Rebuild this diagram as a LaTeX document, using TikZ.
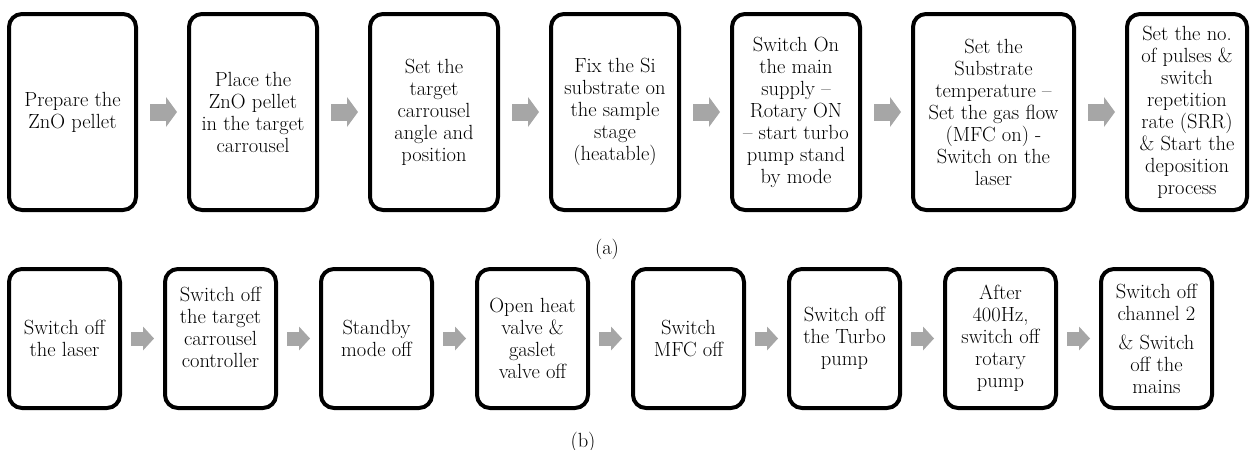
\documentclass[tikz,border=0pt]{standalone}
\usepackage{tikz}
\usetikzlibrary{positioning,arrows.meta}
\definecolor{arrowgray}{RGB}{166,166,166}

\begin{document}
\begin{tikzpicture}[x=1pt, y=-1pt,
    stepbox/.style={draw, line width=4pt, rounded corners=13pt, align=center,
      inner sep=2pt, font=\fontsize{20.5}{22}\selectfont},
    topbox/.style={stepbox, minimum width=128pt, minimum height=196pt},
    lowbox/.style={stepbox, minimum width=111pt, minimum height=139pt},
    bigarrow/.style={draw=arrowgray, line width=17pt, shorten <=12pt, shorten >=10pt,
      -{Triangle[length=11pt, width=30pt, line width=0pt, color=arrowgray, fill=arrowgray]}},
    smallarrow/.style={draw=arrowgray, line width=14pt, shorten <=9pt, shorten >=9pt,
      -{Triangle[length=11pt, width=24pt, line width=0pt, color=arrowgray, fill=arrowgray]}},
    sublabel/.style={font=\fontsize{20.5}{22}\selectfont}]
  \useasboundingbox (0,0) rectangle (1251,450);
  % deposition steps
  \node[topbox, minimum width=127pt, anchor=north west] (t1) at (7,12) {Prepare the\\ZnO pellet};
  \node[topbox, right=49pt of t1] (t2) {Place the\\ZnO pellet\\in the target\\carrousel};
  \node[topbox, right=49pt of t2] (t3) {Set the\\target\\carrousel\\angle and\\position};
  \node[topbox, right=49pt of t3] (t4) {Fix the Si\\substrate on\\the sample\\stage\\(heatable)};
  \node[topbox, right=49pt of t4] (t5) {Switch On\\the main\\supply --\\Rotary ON\\-- start turbo\\pump stand\\by mode};
  \node[topbox, minimum width=161pt, right=49pt of t5] (t6) {Set the\\Substrate\\temperature --\\Set the gas flow\\(MFC on) -\\Switch on the\\laser};
  \node[topbox, minimum width=120pt, right=49pt of t6] (t7) {Set the no.\\of pulses \&\\switch\\repetition\\rate (SRR)\\\& Start the\\deposition\\process};
  % shut down steps
  \node[lowbox, anchor=north west] (b1) at (7,267) {Switch off\\the laser};
  \node[lowbox, right=41pt of b1] (b2) {Switch off\\the target\\carrousel\\controller\\\mbox{}};
  \node[lowbox, right=41pt of b2] (b3) {Standby\\mode off};
  \node[lowbox, right=41pt of b3] (b4) {Open heat\\valve \&\\gaslet\\valve off};
  \node[lowbox, right=41pt of b4] (b5) {Switch\\MFC off};
  \node[lowbox, right=41pt of b5] (b6) {Switch off\\the Turbo\\pump};
  \node[lowbox, right=41pt of b6] (b7) {After\\400Hz,\\switch off\\rotary\\pump};
  \node[lowbox, right=41pt of b7] (b8) {Switch off\\channel 2\\[7pt]\& Switch\\off the\\mains};
  \path[bigarrow]
  (t1) edge (t2)
  (t2) edge (t3)
  (t3) edge (t4)
  (t4) edge (t5)
  (t5) edge (t6)
  (t6) edge (t7)
  ;
  \path[smallarrow]
  (b1) edge (b2)
  (b2) edge (b3)
  (b3) edge (b4)
  (b4) edge (b5)
  (b5) edge (b6)
  (b6) edge (b7)
  (b7) edge (b8)
  ;
  \node[sublabel] (capa) at (607,249) {(a)};
  \node[sublabel] (capb) at (583,442) {(b)};
\end{tikzpicture}
\end{document}
